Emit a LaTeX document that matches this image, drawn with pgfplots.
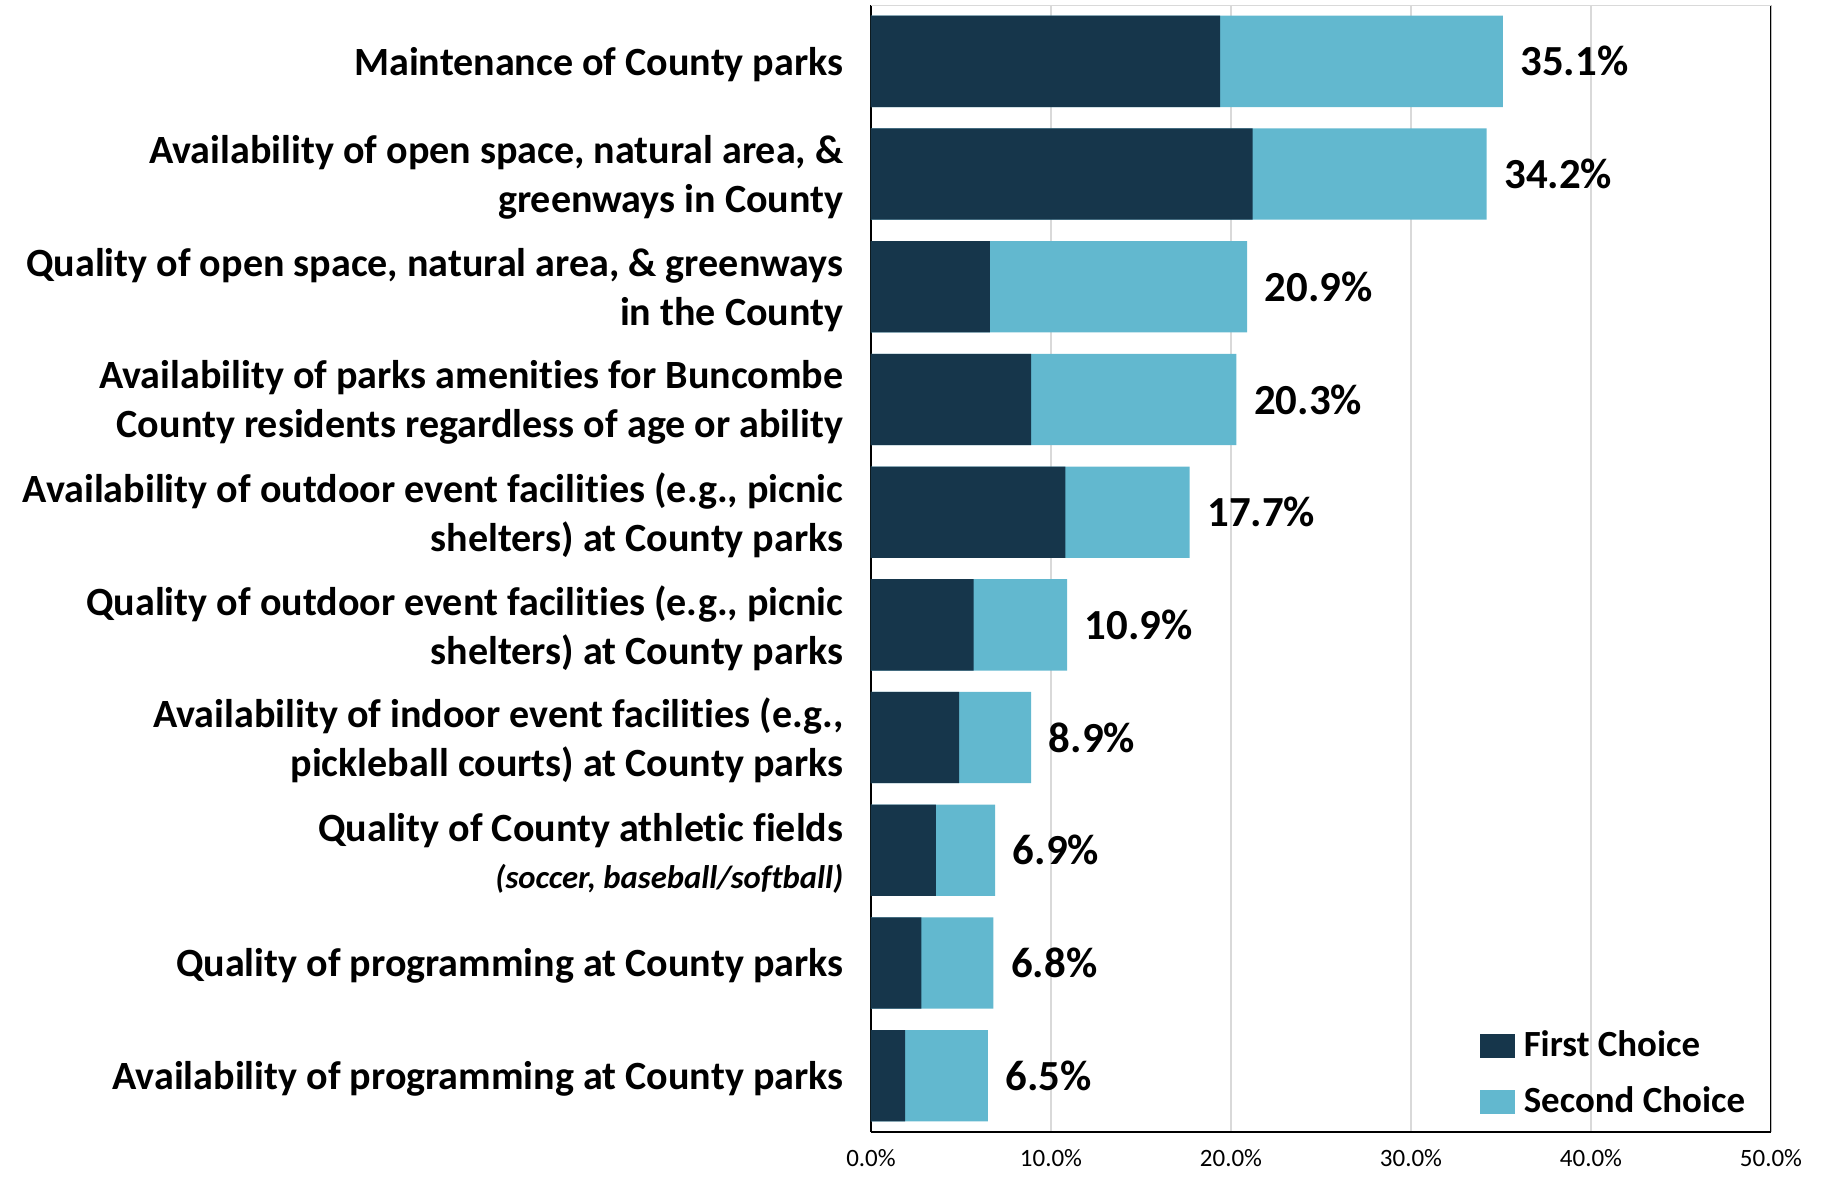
\documentclass[border=0pt]{standalone}
\usepackage{pgfplots}
\pgfplotsset{compat=1.18}
\usepackage{fontspec}
\setmainfont{Carlito}[Ligatures={CommonOff,ContextualOff,RareOff}]

\definecolor{firstc}{HTML}{16364B}
\definecolor{secondc}{HTML}{62B8CF}
\definecolor{gridc}{HTML}{D9D9D9}

% totals (first + second choice) carry the value labels; first choice is drawn over them
\begin{document}
\begin{tikzpicture}
\begin{axis}[
    name=ax,
    scale only axis,
    width=9cm, height=11.27cm,
    xbar,
    bar shift=0pt,
    bar width=0.913cm,
    xmin=0, xmax=50,
    ymin=-0.5, ymax=9.5,
    y dir=reverse,
    axis x line*=bottom,
    axis y line*=left,
    axis line style={black, line width=0.6pt},
    xtick={0,10,...,50},
    ytick={0,...,9},
    major tick length=0pt,
    xmajorgrids=true,
    grid style={gridc, line width=0.5pt},
    /pgf/number format/assume math mode=true,
    xticklabel={\pgfmathprintnumber[fixed,fixed zerofill,precision=1]{\tick}\%},
    xticklabel style={font=\fontsize{7.1}{8}\selectfont, yshift=-0.05cm},
    yticklabels={
        {Maintenance of County parks},
        {Availability of open space, natural area, \& \\ greenways in County},
        {Quality of open space, natural area, \& greenways\\ in the County},
        {Availability of parks amenities for Buncombe\\ County residents regardless of age or ability},
        {Availability of outdoor event facilities (e.g., picnic\\ shelters) at County parks},
        {Quality of outdoor event facilities (e.g., picnic\\ shelters) at County parks},
        {Availability of indoor event facilities (e.g.,\\ pickleball courts) at County parks},
        {Quality of County athletic fields\\[-0.02cm] {\fontsize{9.3}{11}\selectfont\itshape (soccer, baseball/softball)}},
        {Quality of programming at County parks},
        {Availability of programming at County parks}
    },
    yticklabel style={font=\fontsize{11.4}{13.9}\selectfont\bfseries, align=right, inner sep=0pt, xshift=-0.27cm, yshift=-0.03cm},
    legend style={draw=none, fill=none, at={(rel axis cs:0.6756,0.006)}, anchor=south west,
        font=\fontsize{10.5}{12}\selectfont\bfseries, row sep=0.11cm, inner sep=0pt,
        /tikz/every odd column/.style={column sep=0.02cm}},
    legend cell align=left,
    reverse legend,
    legend image code/.code={\fill[#1] (0cm,-0.12cm) rectangle (0.35cm,0.12cm);},
]
\addplot[fill=secondc, draw=none,
    point meta=explicit symbolic,
    nodes near coords={\pgfplotspointmeta},
    every node near coord/.append style={font=\fontsize{12.2}{14}\selectfont\bfseries, black, anchor=west, inner sep=0pt, xshift=0.17cm}]
    coordinates {
    (35.1,0) [35.1\%]
    (34.2,1) [34.2\%]
    (20.9,2) [20.9\%]
    (20.3,3) [20.3\%]
    (17.7,4) [17.7\%]
    (10.9,5) [10.9\%]
    (8.9,6) [8.9\%]
    (6.9,7) [6.9\%]
    (6.8,8) [6.8\%]
    (6.5,9) [6.5\%]
};
\addlegendentry{Second Choice}
\addplot[fill=firstc, draw=none] coordinates {
    (19.4,0) (21.2,1) (6.6,2) (8.9,3) (10.8,4)
    (5.7,5) (4.9,6) (3.6,7) (2.8,8) (1.9,9)
};
\addlegendentry{First Choice}
\draw[black, line width=0.6pt] (rel axis cs:1,0) -- (rel axis cs:1,1);
\draw[gridc, line width=0.6pt] (rel axis cs:0,1) -- (rel axis cs:1,1);
\end{axis}
\pgfresetboundingbox
\path ([xshift=-8.71cm,yshift=-0.44cm]ax.south west) rectangle ([xshift=0.51cm,yshift=0.05cm]ax.north east);
\end{tikzpicture}
\end{document}
